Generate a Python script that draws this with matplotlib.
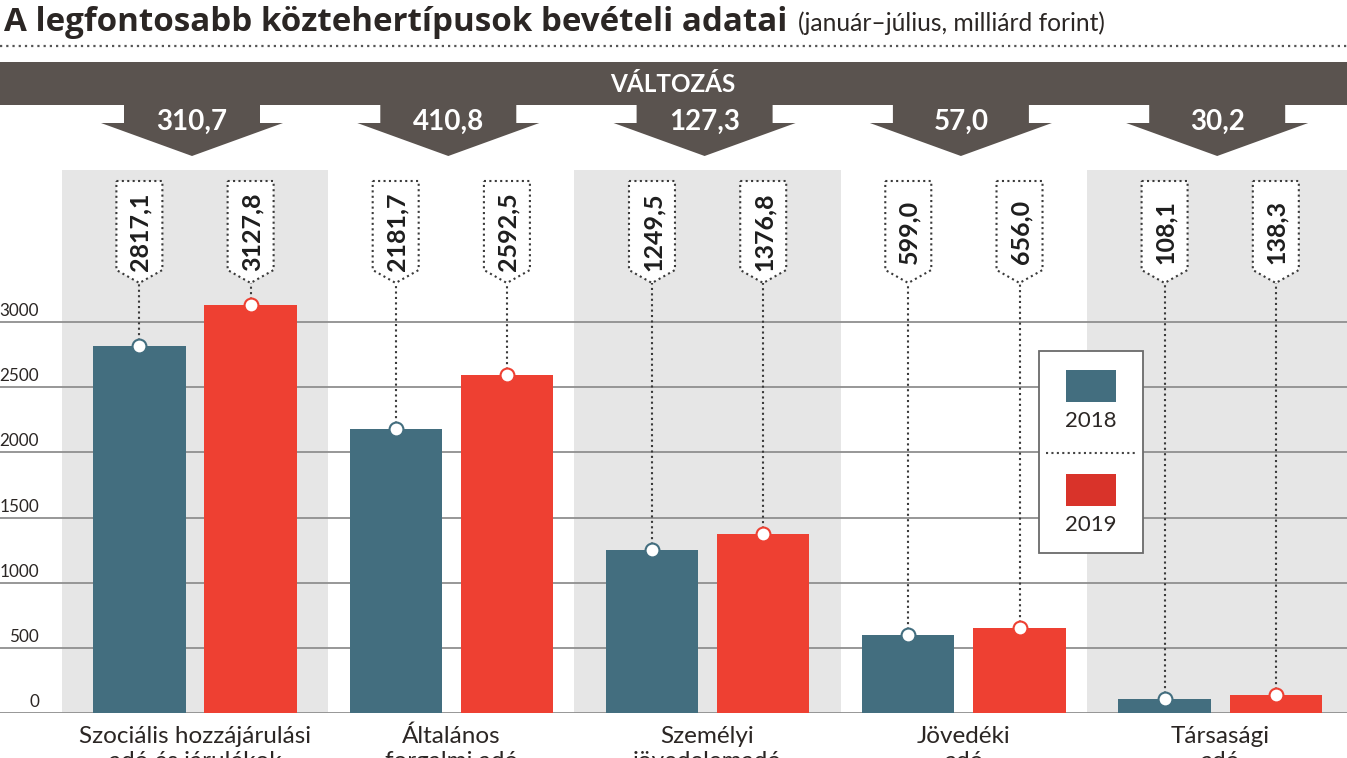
import numpy as np
import matplotlib.pyplot as plt
from matplotlib.patches import Polygon, Rectangle

plt.rcParams['font.family'] = ['Lato', 'DejaVu Sans']

# data (milliárd forint, január-július)
categories = ['Szociális hozzájárulási\nadó és járulékok', 'Általános\nforgalmi adó',
              'Személyi\njövedelemadó', 'Jövedéki\nadó', 'Társasági\nadó']
val_2018 = [2817.1, 2181.7, 1249.5, 599.0, 108.1]
val_2019 = [3127.8, 2592.5, 1376.8, 656.0, 138.3]
changes = [310.7, 410.8, 127.3, 57.0, 30.2]
years = ['2018', '2019']
yticks = [0, 500, 1000, 1500, 2000, 2500, 3000]

TEAL = '#436e7f'
RED = '#ee4032'
RED_LEG = '#d9332a'
DARK = '#5a534f'
BG = '#e6e6e6'
GRID = '#8f8f8f'
TXT = '#2b2624'

W, H = 1347, 758
X0, STEP = 195, 256.3          # pixel position of first group, group spacing
Y0, Y3000 = 713, 322           # pixel rows of 0 and 3000
PX_PER_UNIT = (Y0 - Y3000) / 3000.0
TOP = 170


def hu(v):
    return f'{v:.1f}'.replace('.', ',')


def gx(i):
    # group index -> pixel x
    return X0 + STEP * i


def py2val(p):
    return (Y0 - p) / PX_PER_UNIT


fig = plt.figure(figsize=(W / 100, H / 100), dpi=100)

# main chart axes
ax = fig.add_axes([0, (H - Y0) / H, 1, (Y0 - TOP) / H])
ax.set_xlim(-X0 / STEP, (W - X0) / STEP)
ax.set_ylim(0, (Y0 - TOP) / PX_PER_UNIT)
ax.axis('off')

idx = np.arange(len(categories))
for i in idx[::2]:
    ax.axvspan(i - 0.52, i + 0.52, color=BG, zorder=0, lw=0)
for t in yticks:
    ax.axhline(t, color=GRID, lw=1.3, zorder=1)
    ax.text((39 - X0) / STEP, t + 3 / PX_PER_UNIT, str(t), ha='right', va='bottom',
            fontsize=12.3, color=TXT)

off, bw = 0.217, 0.36
ax.bar(idx - off, val_2018, bw, color=TEAL, zorder=2)
ax.bar(idx + off, val_2019, bw, color=RED, zorder=2)

tip_val = py2val(283)
for series, sgn, col in [(val_2018, -1, TEAL), (val_2019, 1, RED)]:
    for i, v in enumerate(series):
        xc = i + sgn * off
        ax.plot([xc, xc], [v, tip_val], ls=(0, (1, 1.6)), color='#3a3a3a', lw=1.5, zorder=3)
        ax.plot(xc, v, 'o', ms=10, mfc='white', mec=col, mew=1.5, zorder=4)

# decoration canvas in pixel units
deco = fig.add_axes([0, 0, 1, 1], zorder=5)
deco.set_xlim(0, W)
deco.set_ylim(H, 0)
deco.axis('off')

title = fig.text(4 / W, 1 - 31 / H, 'A legfontosabb köztehertípusok bevételi adatai', fontsize=24,
                 fontweight='bold', color=TXT, va='baseline', ha='left',
                 family=['Open Sans', 'DejaVu Sans'])
# stretch the title to the width it has in the original
r = fig.canvas.get_renderer()
title.set_fontsize(24 * 784 / title.get_window_extent(r).width)
fig.text(798 / W, 1 - 31 / H, '(január–július, milliárd forint)', fontsize=17.7,
         color=TXT, va='baseline', ha='left')
deco.plot([0, W], [46, 46], ls=(0, (1, 1.8)), color='#555555', lw=1.6)

deco.add_patch(Rectangle((0, 62), W, 43, color=DARK, lw=0))
deco.text(673, 85, 'VÁLTOZÁS', color='white', fontsize=17.5, fontweight='bold',
          ha='center', va='center')

for i, ch in enumerate(changes):
    c = gx(i) - 3
    deco.add_patch(Polygon([(c - 68, 104), (c + 68, 104), (c + 68, 123), (c + 91, 123),
                            (c, 156), (c - 91, 123), (c - 68, 123)], closed=True,
                           color=DARK, lw=0))
    deco.text(c, 122, hu(ch), color='white', fontsize=20, fontweight='bold',
              ha='center', va='center')

# callout boxes
for series, sgn in [(val_2018, -1), (val_2019, 1)]:
    for i, v in enumerate(series):
        xc = gx(i + sgn * off)
        deco.add_patch(Polygon([(xc - 23, 181), (xc + 23, 181), (xc + 23, 270), (xc, 283),
                                (xc - 23, 270)], closed=True, facecolor='white',
                               edgecolor='#3a3a3a', ls=(0, (1, 1.6)), lw=1.5))
        deco.text(xc + 1, 232, hu(v), rotation=90, fontsize=18, fontweight='bold',
                  color='#1e1e1e', ha='center', va='center')

# category labels (second line runs off the bottom edge, as in the original)
for i, cat in enumerate(categories):
    for k, line in enumerate(cat.split('\n')):
        deco.text(gx(i), 743 + 25 * k, line, fontsize=17.5, color=TXT,
                  ha='center', va='baseline')

# legend
deco.add_patch(Rectangle((1039, 351), 104, 202, facecolor='white', edgecolor='#6a6a6a', lw=1.3))
deco.add_patch(Rectangle((1066, 370), 50, 32, color=TEAL, lw=0))
deco.add_patch(Rectangle((1066, 474), 50, 32, color=RED_LEG, lw=0))
deco.text(1091, 421, years[0], fontsize=16, color=TXT, ha='center', va='center')
deco.text(1091, 525, years[1], fontsize=16, color=TXT, ha='center', va='center')
deco.plot([1046, 1136], [453, 453], ls=(0, (1, 1.6)), color='#444444', lw=1.5)

fig.savefig('out.png', dpi=100)
